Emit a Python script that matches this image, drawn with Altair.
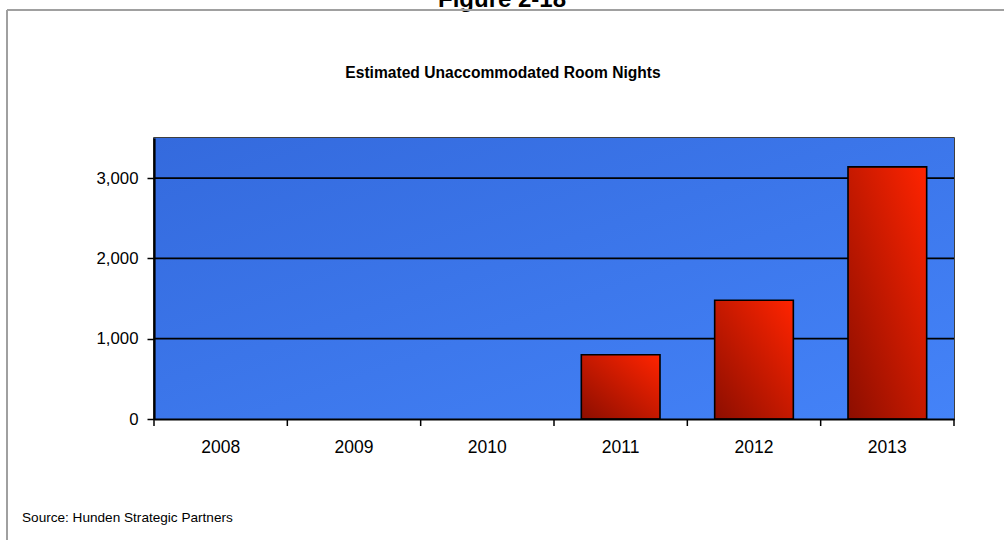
import altair as alt
import pandas as pd

years = ["2008", "2009", "2010", "2011", "2012", "2013"]
room_nights = [0, 0, 0, 800, 1480, 3140]
y_ticks = [0, 1000, 2000, 3000]
grid_values = [1000, 2000, 3000]
chart_title = "Estimated Unaccommodated Room Nights"
figure_title = "Figure 2-18"
source_text = "Source: Hunden Strategic Partners"

FONT = "'Liberation Sans', Arial, sans-serif"
W, H = 800, 281

df = pd.DataFrame({"year": years, "nights": room_nights})
grid_df = pd.DataFrame({"v": grid_values})
tick_df = pd.DataFrame({"year": years})
last_df = pd.DataFrame({"year": years[-1:]})
one = pd.DataFrame({"k": [0]})

yscale = alt.Scale(domain=[0, 3500], nice=False)

xenc = alt.X(
    "year:N",
    sort=years,
    scale=alt.Scale(domain=years, paddingInner=0.41, paddingOuter=0.205),
    axis=alt.Axis(
        title=None, labelAngle=0, labelFont=FONT, labelFontSize=17.5, labelColor="black",
        labelPadding=19, ticks=False, domainColor="black", domainWidth=2, zindex=1,
    ),
)
yenc = alt.Y(
    "nights:Q",
    scale=yscale,
    axis=alt.Axis(
        title=None, values=y_ticks, format=",d", grid=False, labelFont=FONT, labelFontSize=16.8,
        labelColor="black", labelPadding=9, tickColor="black", tickSize=7, tickWidth=1.5,
        domainColor="black", domainWidth=2.2, zindex=1,
    ),
)

bg = alt.Chart(one).mark_rect(
    color=alt.LinearGradient(
        gradient="linear",
        stops=[alt.GradientStop(color="#346add", offset=0), alt.GradientStop(color="#4483f8", offset=1)],
        x1=0, y1=0, x2=1, y2=1,
    )
).encode(x=alt.value(0), x2=alt.value(W), y=alt.value(0), y2=alt.value(H))

grid = alt.Chart(grid_df).mark_rule(color="black", strokeWidth=1.8).encode(
    y=alt.Y("v:Q", scale=yscale)
)

bars = alt.Chart(df).transform_filter("datum.nights > 0").mark_bar(
    color=alt.LinearGradient(
        gradient="linear",
        stops=[alt.GradientStop(color="#8c0e00", offset=0), alt.GradientStop(color="#ff2400", offset=1)],
        x1=0, y1=1, x2=1, y2=0,
    ),
    stroke="black", strokeWidth=1.6,
).encode(x=xenc, y=yenc)

tick_scale = alt.Scale(domain=years, paddingInner=0, paddingOuter=0)
xticks = alt.Chart(tick_df).mark_rule(color="black", strokeWidth=1.5).encode(
    x=alt.X("year:N", scale=tick_scale, axis=None, bandPosition=0),
    y=alt.value(H), y2=alt.value(H + 7),
)
xtick_end = alt.Chart(last_df).mark_rule(color="black", strokeWidth=1.5).encode(
    x=alt.X("year:N", scale=tick_scale, axis=None, bandPosition=1),
    y=alt.value(H), y2=alt.value(H + 7),
)

title_t = alt.Chart(one).mark_text(
    text=chart_title, font=FONT, fontSize=15.6, fontWeight="bold", color="black",
    align="center", baseline="alphabetic",
).encode(x=alt.value(349), y=alt.value(-60))

fig_t = alt.Chart(one).mark_text(
    text=figure_title, font=FONT, fontSize=24, fontWeight="bold", color="black",
    align="center", baseline="alphabetic",
).encode(x=alt.value(348), y=alt.value(-131))

src_t = alt.Chart(one).mark_text(
    text=source_text, font=FONT, fontSize=13.6, color="black",
    align="left", baseline="alphabetic",
).encode(x=alt.value(-132), y=alt.value(384))

frame_top = alt.Chart(one).mark_rule(color="#a0a0a0", strokeWidth=2).encode(
    x=alt.value(-147), x2=alt.value(860), y=alt.value(-128), y2=alt.value(-128)
)
frame_left = alt.Chart(one).mark_rule(color="#a0a0a0", strokeWidth=2).encode(
    x=alt.value(-147), x2=alt.value(-147), y=alt.value(-128), y2=alt.value(410)
)

chart = alt.layer(
    bg, grid, bars, xticks, xtick_end, title_t, fig_t, src_t, frame_top, frame_left
).resolve_scale(x="independent").properties(
    width=W, height=H,
    autosize=alt.AutoSizeParams(type="none"),
    padding={"left": 154, "top": 138, "right": 50, "bottom": 121},
    background="white",
).configure_view(stroke="black", strokeWidth=1.5)

chart.save("out.html", embed_options={"renderer": "svg", "actions": False})
